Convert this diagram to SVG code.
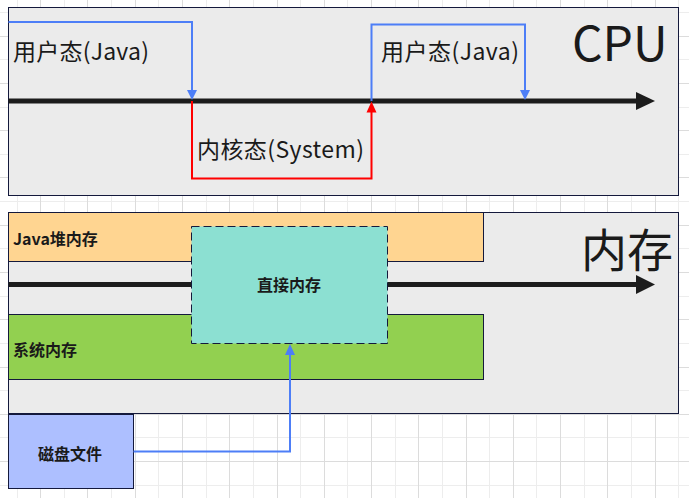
<svg xmlns="http://www.w3.org/2000/svg" width="689" height="498" viewBox="0 0 689 498">
<defs>
<style>
.gl{stroke:#ededed;stroke-width:1;fill:none}
.gd{stroke:#dcdcdc;stroke-width:1;fill:none}
.box{stroke:#14193c;stroke-width:1}
.axis{stroke:#1c1c1c;stroke-width:5;fill:none}
.blue{stroke:#4d7ef7;stroke-width:2;fill:none}
.red{stroke:#ff0000;stroke-width:2;fill:none}
.t{font-family:"Noto Sans CJK SC","Noto Sans",sans-serif;fill:#1a1a1a}
.b{font-family:"Noto Sans CJK SC","Noto Sans",sans-serif;font-weight:bold;font-size:16px;fill:#1a1a1a}
</style>
</defs>
<rect width="689" height="498" fill="#ffffff"/>
<g id="grid">
<path class="gl" d="M17.5 0V498M64.5 0V498M111.5 0V498M158.5 0V498M206.5 0V498M253.5 0V498M300.5 0V498M347.5 0V498M395.5 0V498M442.5 0V498M489.5 0V498M536.5 0V498M584.5 0V498M631.5 0V498M678.5 0V498M0 12.5H689M0 59.5H689M0 107.5H689M0 154.5H689M0 201.5H689M0 248.5H689M0 296.5H689M0 343.5H689M0 390.5H689M0 437.5H689M0 485.5H689"/>
<path class="gd" d="M40.5 0V498M87.5 0V498M135.5 0V498M182.5 0V498M229.5 0V498M277.5 0V498M324.5 0V498M371.5 0V498M418.5 0V498M466.5 0V498M513.5 0V498M560.5 0V498M607.5 0V498M655.5 0V498M0 36.5H689M0 83.5H689M0 130.5H689M0 177.5H689M0 225.5H689M0 272.5H689M0 319.5H689M0 367.5H689M0 414.5H689M0 461.5H689"/>
</g>
<g id="cpu">
<rect class="box" x="8.5" y="7.5" width="670" height="188" fill="#ebebeb"/>
<text class="t" x="572" y="61" font-size="48">CPU</text>
</g>
<g id="memory">
<rect class="box" x="8.5" y="212.5" width="670" height="201" fill="#ebebeb"/>
<text class="t" x="581" y="267" font-size="46">内存</text>
</g>
<g id="java-heap">
<rect class="box" x="8.5" y="212.5" width="475" height="49" fill="#ffd591"/>
<text class="b" x="13" y="245">Java堆内存</text>
</g>
<g id="system-memory">
<rect class="box" x="8.5" y="314.5" width="475" height="65" fill="#92d050"/>
<text class="b" x="13" y="356">系统内存</text>
</g>
<g id="disk-file">
<rect class="box" x="8.5" y="414.5" width="125" height="74" fill="#adbfff"/>
<text class="b" x="70" y="460" text-anchor="middle">磁盘文件</text>
</g>
<g id="connectors">
<path class="axis" d="M8.5 101H640"/>
<polygon points="636,92 655,101 636,110" fill="#1c1c1c"/>
<path class="axis" d="M8.5 284.5H640"/>
<polygon points="636,275 655,284.5 636,294" fill="#1c1c1c"/>
<path class="blue" d="M8.5 22H192V91"/>
<polygon points="187,90 197,90 192,100" fill="#4d7ef7"/>
<path class="red" d="M192 101V178.5H371.5V112"/>
<polygon points="366.5,112.5 376.5,112.5 371.5,101.5" fill="#ff0000"/>
<path class="blue" d="M371.5 101V24.5H525V91"/>
<polygon points="520,90 530,90 525,100" fill="#4d7ef7"/>
<path class="blue" d="M133.5 451.5H290V354"/>
<polygon points="285,355 295,355 290,344" fill="#4d7ef7"/>
</g>
<g id="state-labels">
<text class="t" x="13" y="60" font-size="23" textLength="136" lengthAdjust="spacing">用户态(Java)</text>
<text class="t" x="381" y="60" font-size="23" textLength="138" lengthAdjust="spacing">用户态(Java)</text>
<text class="t" x="197" y="158" font-size="23" textLength="167" lengthAdjust="spacing">内核态(System)</text>
</g>
<g id="direct-memory">
<rect x="191.5" y="226.5" width="196" height="117" fill="#8ce0d2" stroke="#14193c" stroke-width="1" stroke-dasharray="8,4"/>
<text class="b" x="289" y="291" text-anchor="middle">直接内存</text>
</g>
</svg>
